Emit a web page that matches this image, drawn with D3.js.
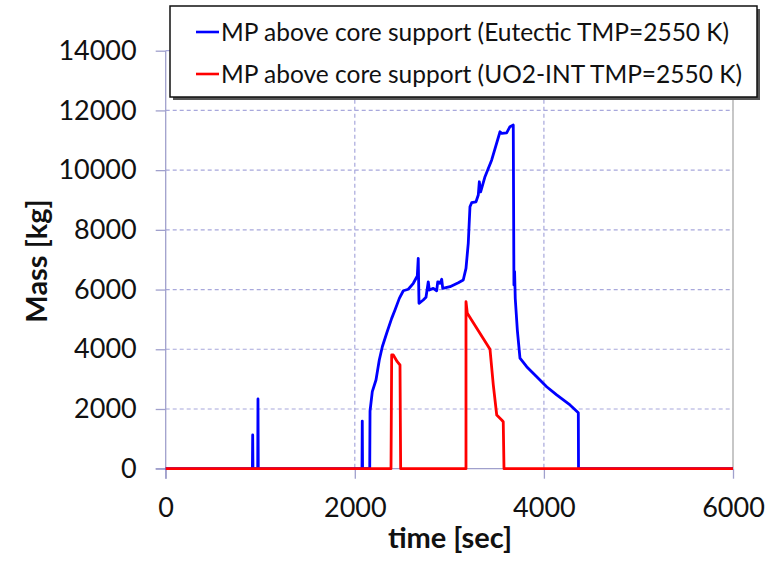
<!DOCTYPE html>
<html>
<head>
<meta charset="utf-8">
<script src="https://cdn.jsdelivr.net/npm/d3@7"></script>
<style>
  body { margin: 0; background: #fff; }
  svg { display: block; font-family: Lato, "Open Sans", sans-serif; }
</style>
</head>
<body>
<svg id="chart" width="779" height="562"></svg>
<script>
// time [sec], mass [kg]
const eutecticSeries = [
  [0, 0], [917, 0], [920, 1130], [923, 0], [973, 0], [976, 2335], [979, 0],
  [2076, 0], [2079, 1595], [2082, 0], [2158, 0], [2161, 1925], [2185, 2580],
  [2224, 2970], [2259, 3640], [2291, 4085], [2337, 4535], [2390, 5035],
  [2425, 5315], [2471, 5705], [2513, 5960], [2566, 6010], [2619, 6210],
  [2661, 6455], [2671, 7045], [2679, 5540], [2724, 5650], [2753, 5740],
  [2777, 6260], [2788, 5985], [2830, 6040], [2866, 5960], [2877, 6260],
  [2901, 6210], [2919, 6345], [2930, 6040], [3007, 6095], [3095, 6230],
  [3147, 6320], [3176, 6710], [3200, 7550], [3218, 8775], [3236, 8910],
  [3282, 8940], [3306, 9165], [3317, 9610], [3331, 9275], [3377, 9780],
  [3448, 10340], [3536, 11285], [3554, 11230], [3606, 11250], [3641, 11455],
  [3676, 11510], [3683, 6150], [3690, 6600], [3697, 5700], [3719, 4645],
  [3747, 3700], [3818, 3415], [3924, 3080], [4029, 2745], [4135, 2470],
  [4276, 2135], [4364, 1875], [4366, 0], [6000, 0]
];

const uo2Series = [
  [0, 0], [2383, 0], [2390, 3808], [2407, 3808], [2449, 3583], [2478, 3473],
  [2485, 0], [3176, 0], [3176, 5593], [3190, 5204], [3430, 3999], [3465, 2803],
  [3501, 1798], [3554, 1631], [3570, 1574], [3578, 0], [6000, 0]
];

const xTicks = [0, 2000, 4000, 6000];
const yTicks = [0, 2000, 4000, 6000, 8000, 10000, 12000, 14000];
const legendLabels = [
  "MP above core support (Eutectic TMP=2550 K)",
  "MP above core support (UO2-INT TMP=2550 K)"
];
const seriesColors = ["#0000ff", "#ff0000"];

const svg = d3.select("#chart");
const plot = { left: 165.7, right: 733, top: 50.7, bottom: 468.7 };

const x = d3.scaleLinear().domain([0, 6000]).range([plot.left, plot.right]);
const y = d3.scaleLinear().domain([0, 14000]).range([plot.bottom, plot.top]);

const gridColor = "#a8a8dc";
const axisColor = "#a0a0cc";

// gridlines
svg.append("g")
  .selectAll("line")
  .data(yTicks.filter(d => d > 0))
  .join("line")
  .attr("x1", plot.left).attr("x2", plot.right)
  .attr("y1", d => y(d)).attr("y2", d => y(d))
  .attr("stroke", gridColor).attr("stroke-width", 1.2)
  .attr("stroke-dasharray", "4,3");

svg.append("g")
  .selectAll("line")
  .data([2000, 4000])
  .join("line")
  .attr("x1", d => x(d)).attr("x2", d => x(d))
  .attr("y1", plot.top).attr("y2", plot.bottom)
  .attr("stroke", gridColor).attr("stroke-width", 1.2)
  .attr("stroke-dasharray", "4,3");

// right frame
svg.append("line")
  .attr("x1", plot.right).attr("x2", plot.right)
  .attr("y1", plot.top).attr("y2", plot.bottom)
  .attr("stroke", "#b4b4b4").attr("stroke-width", 1.5);

// axes
const yAxis = svg.append("g")
  .attr("transform", `translate(${plot.left},0)`)
  .call(d3.axisLeft(y).tickValues(yTicks).tickSize(10).tickPadding(19).tickFormat(d3.format("d")));

const xAxis = svg.append("g")
  .attr("transform", `translate(0,${plot.bottom})`)
  .call(d3.axisBottom(x).tickValues(xTicks).tickSize(10).tickPadding(19).tickFormat(d3.format("d")));

[xAxis, yAxis].forEach(g => {
  g.select(".domain").remove();
  g.selectAll(".tick line").attr("stroke", axisColor).attr("stroke-width", 1.3);
  g.selectAll(".tick text")
    .attr("fill", "#111")
    .style("font-family", "Lato, sans-serif")
    .style("font-size", "27px");
});

svg.append("line")
  .attr("x1", plot.left).attr("x2", plot.left)
  .attr("y1", plot.top).attr("y2", plot.bottom + 10)
  .attr("stroke", axisColor).attr("stroke-width", 1.3);
svg.append("line")
  .attr("x1", plot.left - 10).attr("x2", plot.right)
  .attr("y1", plot.bottom).attr("y2", plot.bottom)
  .attr("stroke", axisColor).attr("stroke-width", 1.3);

// series
const line = d3.line().x(d => x(d[0])).y(d => y(d[1]));

[eutecticSeries, uo2Series].forEach((s, i) => {
  svg.append("path")
    .datum(s)
    .attr("fill", "none")
    .attr("stroke", seriesColors[i])
    .attr("stroke-width", 2.8)
    .attr("stroke-linejoin", "round")
    .attr("d", line);
});

// axis titles
svg.append("text")
  .attr("x", 450)
  .attr("y", 548)
  .attr("text-anchor", "middle")
  .attr("font-size", "29px")
  .attr("font-weight", "bold")
  .attr("fill", "#111")
  .text("time [sec]");

svg.append("text")
  .attr("transform", "translate(47,261) rotate(-90)")
  .attr("text-anchor", "middle")
  .attr("font-size", "29px")
  .attr("font-weight", "bold")
  .attr("fill", "#111")
  .text("Mass [kg]");

// legend
const legend = svg.append("g");
legend.append("rect")
  .attr("x", 173).attr("y", 9)
  .attr("width", 587).attr("height", 91)
  .attr("fill", "#555");
legend.append("rect")
  .attr("x", 170).attr("y", 6)
  .attr("width", 587).attr("height", 91)
  .attr("fill", "#fff")
  .attr("stroke", "#111").attr("stroke-width", 1.5);

const item = legend.selectAll("g.item")
  .data(legendLabels)
  .join("g")
  .attr("class", "item")
  .attr("transform", (d, i) => `translate(0, ${32 + i * 42})`);

item.append("line")
  .attr("x1", 196).attr("x2", 219)
  .attr("stroke", (d, i) => seriesColors[i])
  .attr("stroke-width", 2.6);

item.append("text")
  .attr("x", 221)
  .attr("dy", "0.35em")
  .attr("font-size", "24.5px")
  .attr("fill", "#111")
  .text(d => d);
</script>
</body>
</html>
